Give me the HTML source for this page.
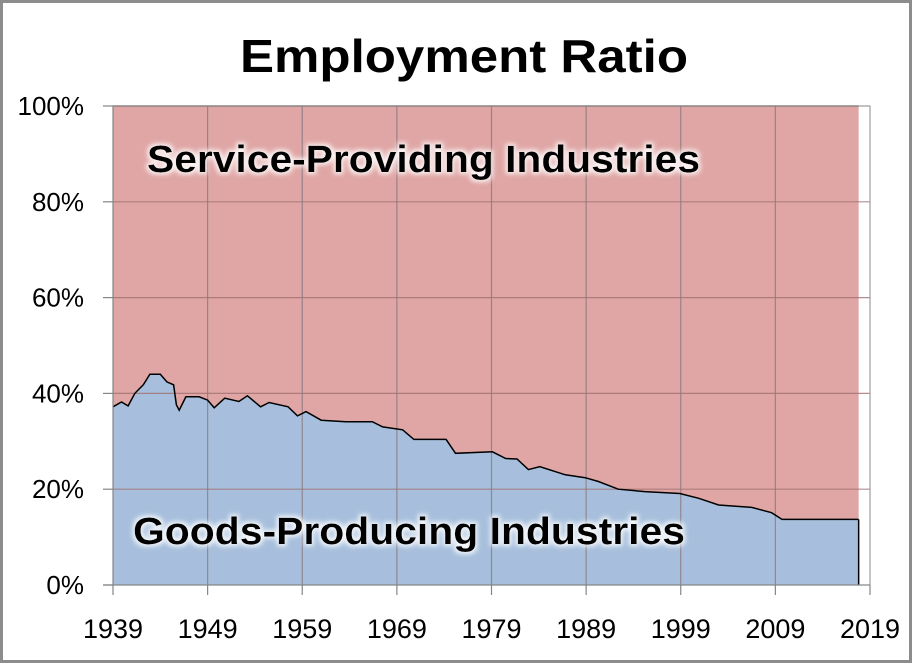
<!DOCTYPE html>
<html><head><meta charset="utf-8"><style>
html,body{margin:0;padding:0;background:#fff}
svg{display:block}
</style></head><body>
<svg id="chart" width="912" height="663" xmlns="http://www.w3.org/2000/svg" font-family="'Liberation Sans', sans-serif">
<defs>
<filter id="glow" x="-10%" y="-30%" width="120%" height="160%">
<feMorphology in="SourceAlpha" operator="dilate" radius="2" result="d"/>
<feGaussianBlur in="d" stdDeviation="2.5" result="b"/>
<feFlood flood-color="#ffffff" flood-opacity="0.85"/>
<feComposite in2="b" operator="in" result="g"/>
<feMerge><feMergeNode in="g"/><feMergeNode in="SourceGraphic"/></feMerge>
</filter>
</defs>
<rect x="1.5" y="1.5" width="909" height="660" fill="#fff" stroke="#8c8c8c" stroke-width="3"/>
<text x="240" y="72" font-size="46" font-weight="bold" textLength="448" lengthAdjust="spacingAndGlyphs">Employment Ratio</text>
<g id="plot"></g>
<g id="axes"></g>
<text x="147" y="172" font-size="38" font-weight="bold" textLength="553" lengthAdjust="spacingAndGlyphs" filter="url(#glow)">Service-Providing Industries</text>
<text x="133" y="544" font-size="38" font-weight="bold" textLength="552" lengthAdjust="spacingAndGlyphs" filter="url(#glow)">Goods-Producing Industries</text>
</svg>
<script>
const years = [1939.0,1939.9,1940.6,1941.3,1942.2,1942.9,1944.0,1944.7,1945.4,1945.7,1946.0,1946.7,1948.1,1949.0,1949.7,1950.8,1952.3,1953.2,1954.6,1955.5,1957.5,1958.5,1959.4,1961.0,1963.6,1966.4,1967.5,1969.6,1970.8,1974.2,1975.2,1979.1,1980.5,1981.7,1982.9,1984.1,1986.8,1988.9,1990.3,1992.4,1995.2,1998.9,2000.9,2003.0,2006.5,2008.6,2009.7,2017.8];
const goodsShare = [37.2,38.2,37.4,40.0,41.8,44.0,44.0,42.4,41.8,37.6,36.5,39.3,39.3,38.6,37.0,39.0,38.3,39.5,37.2,38.1,37.2,35.3,36.2,34.4,34.1,34.1,33.0,32.4,30.4,30.4,27.5,27.8,26.4,26.3,24.1,24.7,23.0,22.4,21.6,20.0,19.5,19.1,18.1,16.7,16.2,15.1,13.7,13.7];
const xTicks = [1939,1949,1959,1969,1979,1989,1999,2009,2019];
const yTicks = [0,20,40,60,80,100];
const yTickLabels = ['0%','20%','40%','60%','80%','100%'];

const X0=113,X1=870,Y0=585,Y1=106;
const xs = y => X0 + (y-1939)/(2019-1939)*(X1-X0);
const ys = v => Y0 - v/100*(Y0-Y1);
const NS='http://www.w3.org/2000/svg';
function mk(tag, attrs, parent){const e=document.createElementNS(NS,tag);for(const k in attrs)e.setAttribute(k,attrs[k]);parent.appendChild(e);return e;}
const plot=document.getElementById('plot'), axes=document.getElementById('axes');
const xEnd = xs(years[years.length-1]);
const svc = mk('rect',{x:X0,y:Y1,width:xEnd-X0,height:Y0-Y1,fill:'#dfa6a5'},plot);


let d='M'+xs(years[0])+','+Y0;
years.forEach((yr,i)=>{d+=' L'+xs(yr).toFixed(1)+','+ys(goodsShare[i]).toFixed(1);});
d+=' L'+xEnd+','+Y0+' Z';
const goods = mk('path',{d:d,fill:'#a7bfdc'},plot);


yTicks.forEach(v=>{if(v===0)return;
 const g=mk('line',{x1:X0,x2:X1,y1:ys(v),y2:ys(v),stroke:'#a07070','stroke-width':1.2,'stroke-opacity':0.8},plot);
 
 
});
xTicks.forEach(t=>{if(t===1939)return;
 const g=mk('line',{x1:xs(t),x2:xs(t),y1:Y1,y2:Y0,stroke:'#8a7880','stroke-width':1.2,'stroke-opacity':0.8},plot);
 
 
});
let ld='';
years.forEach((yr,i)=>{ld+=(i?' L':'M')+xs(yr).toFixed(1)+','+ys(goodsShare[i]).toFixed(1);});
const ln=mk('path',{d:ld,fill:'none',stroke:'#000','stroke-width':1.5},plot);


const edge=mk('line',{x1:xEnd,x2:xEnd,y1:ys(goodsShare[goodsShare.length-1]),y2:Y0,stroke:'#000','stroke-width':1.5},plot);


const topEdge=mk('line',{x1:X0,x2:xEnd,y1:Y1,y2:Y1,stroke:'#000','stroke-width':1.2},plot);


const pb=mk('rect',{x:X0,y:Y1,width:X1-X0,height:Y0-Y1,fill:'none',stroke:'#a0a0a0','stroke-width':1},axes);


const ya=mk('line',{x1:X0,x2:X0,y1:Y1,y2:Y0,stroke:'#868686','stroke-width':1.2},axes);


const xa=mk('line',{x1:X0-10,x2:X1,y1:Y0,y2:Y0,stroke:'#868686','stroke-width':1.2},axes);


yTicks.forEach((v,i)=>{
 const tk=mk('line',{x1:X0-10,x2:X0,y1:ys(v),y2:ys(v),stroke:'#868686','stroke-width':1.2},axes);
 
 
 const t=mk('text',{x:84,y:ys(v)+9,'text-anchor':'end','font-size':26},axes);
 t.textContent=yTickLabels[i];
 
 
});
xTicks.forEach(v=>{
 const tk=mk('line',{x1:xs(v),x2:xs(v),y1:Y0,y2:Y0+10,stroke:'#868686','stroke-width':1.2},axes);
 
 
 const t=mk('text',{x:xs(v),y:638,'text-anchor':'middle','font-size':27},axes);
 t.textContent=String(v);
 
 
});
</script>
</body></html>
